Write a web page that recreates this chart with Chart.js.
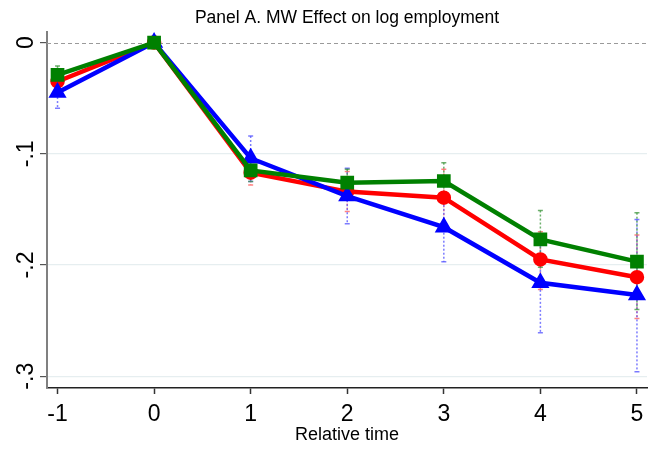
<!DOCTYPE html>
<html>
<head>
<meta charset="utf-8">
<script src="https://cdn.jsdelivr.net/npm/chart.js@4/dist/chart.umd.min.js"></script>
<style>
  html, body { margin: 0; padding: 0; background: #fff; }
  #wrap { width: 649px; height: 449px; }
</style>
</head>
<body>
<div id="wrap"><canvas id="chart" width="649" height="449"></canvas></div>
<script>
// relative time and point estimates
var relTime = [-1, 0, 1, 2, 3, 4, 5];
var redEst   = [-0.035, 0, -0.117, -0.134, -0.1395, -0.195, -0.211];
var blueEst  = [-0.045, 0, -0.104, -0.138, -0.166, -0.216, -0.227];
var greenEst = [-0.029, 0, -0.115, -0.126, -0.1245, -0.177, -0.197];

// confidence intervals (lower / upper)
var redLo   = [-0.044, 0, -0.128, -0.152, -0.165, -0.222, -0.248];
var redHi   = [-0.026, 0, -0.106, -0.116, -0.114, -0.170, -0.173];
var blueLo  = [-0.059, 0, -0.125, -0.163, -0.197, -0.261, -0.296];
var blueHi  = [-0.031, 0, -0.084, -0.113, -0.135, -0.172, -0.159];
var greenLo = [-0.037, 0, -0.125, -0.138, -0.142, -0.202, -0.240];
var greenHi = [-0.021, 0, -0.104, -0.114, -0.108, -0.151, -0.153];

var yTicks = [0, -0.1, -0.2, -0.3];
var yTickLabels = ["0", "-.1", "-.2", "-.3"];
var xTicks = [-1, 0, 1, 2, 3, 4, 5];

var titleText = "Panel A. MW Effect on log employment";
var xTitle = "Relative time";

function pts(ys) {
    return relTime.map(function (t, i) { return { x: t, y: ys[i] }; });
}

var ciSets = [
    { lo: redLo, hi: redHi, color: "rgba(255,90,90,0.75)" },
    { lo: blueLo, hi: blueHi, color: "rgba(80,80,255,0.75)" },
    { lo: greenLo, hi: greenHi, color: "rgba(60,150,60,0.75)" }
];

var extras = {
    id: "extras",
    beforeDatasetsDraw: function (chart) {
        var ctx = chart.ctx, xs = chart.scales.x, ys = chart.scales.y;
        var a = chart.chartArea;
        ctx.save();
        // dashed zero line
        ctx.strokeStyle = "#9a9a9a";
        ctx.lineWidth = 1;
        ctx.setLineDash([4, 3]);
        var y0 = Math.round(ys.getPixelForValue(0)) + 0.5;
        ctx.beginPath();
        ctx.moveTo(a.left, y0);
        ctx.lineTo(a.right, y0);
        ctx.stroke();
        // confidence intervals
        ctx.lineWidth = 1.5;
        ciSets.forEach(function (s) {
            ctx.strokeStyle = s.color;
            relTime.forEach(function (t, i) {
                if (s.lo[i] === s.hi[i]) return;
                var px = xs.getPixelForValue(t);
                var p1 = ys.getPixelForValue(s.hi[i]);
                var p2 = ys.getPixelForValue(s.lo[i]);
                ctx.setLineDash([2, 2]);
                ctx.beginPath();
                ctx.moveTo(px, p1);
                ctx.lineTo(px, p2);
                ctx.stroke();
                ctx.setLineDash([]);
                ctx.beginPath();
                ctx.moveTo(px - 2.5, p1); ctx.lineTo(px + 2.5, p1);
                ctx.moveTo(px - 2.5, p2); ctx.lineTo(px + 2.5, p2);
                ctx.stroke();
            });
        });
        ctx.restore();
    },
    afterDraw: function (chart) {
        var ctx = chart.ctx, ys = chart.scales.y, a = chart.chartArea;
        ctx.save();
        ctx.fillStyle = "#000";
        ctx.font = "17.5px 'Liberation Sans', Arial, sans-serif";
        ctx.textAlign = "center";
        ctx.textBaseline = "alphabetic";
        ctx.fillText(titleText, (a.left + a.right) / 2, 22.5);
        // rotated y tick labels
        ctx.font = "23px 'Liberation Sans', Arial, sans-serif";
        yTicks.forEach(function (v, i) {
            ctx.save();
            ctx.translate(33, ys.getPixelForValue(v));
            ctx.rotate(-Math.PI / 2);
            ctx.fillText(yTickLabels[i], 0, 0);
            ctx.restore();
        });
        ctx.restore();
    }
};

var ctx = document.getElementById("chart");
var chartGraph = new Chart(ctx, {
    type: "line",
    data: {
        datasets: [{
            label: "green",
            data: pts(greenEst),
            borderColor: "#008000",
            backgroundColor: "#008000",
            borderWidth: 4.5,
            pointStyle: "rect",
            pointRadius: 6.5,
            order: 0
        }, {
            label: "blue",
            data: pts(blueEst),
            borderColor: "#0000ff",
            backgroundColor: "#0000ff",
            borderWidth: 4.5,
            pointStyle: "triangle",
            pointRadius: 6,
            order: 1
        }, {
            label: "red",
            data: pts(redEst),
            borderColor: "#ff0000",
            backgroundColor: "#ff0000",
            borderWidth: 4.5,
            pointStyle: "circle",
            pointRadius: 5,
            order: 2
        }]
    },
    options: {
        responsive: false,
        animation: false,
        layout: { autoPadding: false, padding: { left: 0, right: 2, top: 32, bottom: 0 } },
        plugins: {
            legend: { display: false },
            tooltip: { enabled: false },
            title: { display: false }
        },
        scales: {
            x: {
                type: "linear",
                min: -1.109,
                max: 5.104,
                afterBuildTicks: function (s) { s.ticks = xTicks.map(function (v) { return { value: v }; }); },
                afterFit: function (s) { s.height = 61; s.paddingLeft = 0; s.paddingRight = 0; },
                ticks: {
                    color: "#000",
                    padding: 7,
                    font: { size: 23, family: "'Liberation Sans', Arial, sans-serif" },
                    maxRotation: 0
                },
                grid: { drawOnChartArea: false, drawTicks: true, tickLength: 6, tickColor: "#333", tickWidth: 1.5 },
                border: { color: "#222", width: 1.5 },
                title: {
                    display: true,
                    text: xTitle,
                    color: "#000",
                    padding: { top: 0, bottom: 3 },
                    font: { size: 18, family: "'Liberation Sans', Arial, sans-serif" }
                }
            },
            y: {
                min: -0.3106,
                max: 0.0095,
                afterBuildTicks: function (s) { s.ticks = yTicks.map(function (v) { return { value: v }; }); },
                afterFit: function (s) { s.width = 47; s.paddingTop = 0; s.paddingBottom = 0; },
                ticks: { display: false },
                grid: {
                    color: function (c) { return c.tick && c.tick.value === 0 ? "rgba(0,0,0,0)" : "#e6eef0"; },
                    lineWidth: 1.2,
                    drawTicks: true,
                    tickLength: 7,
                    tickColor: "#555",
                    tickWidth: 1.2
                },
                border: { color: "#808080", width: 2 }
            }
        }
    },
    plugins: [extras]
});
</script>
</body>
</html>
